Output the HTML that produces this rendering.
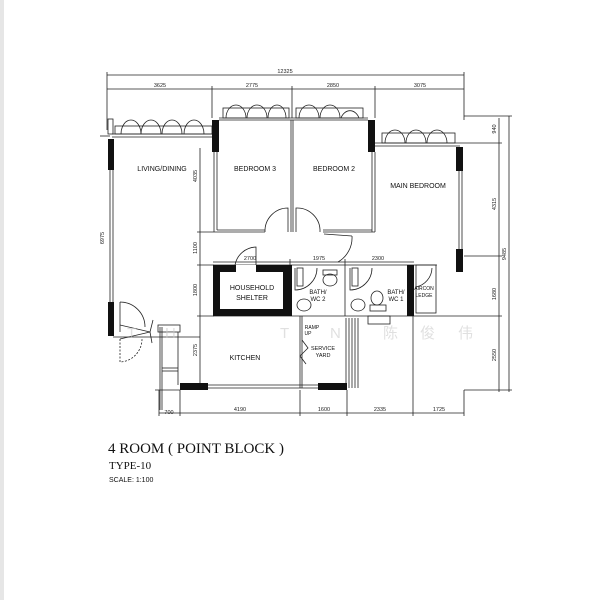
<!DOCTYPE html>
<html><head><meta charset="utf-8"><style>
html,body{margin:0;padding:0;background:#fff;}
svg{display:block}
.d{font-family:"Liberation Sans",sans-serif;font-size:5.5px;fill:#222}
.r{font-family:"Liberation Sans",sans-serif;font-size:7px;fill:#111}
</style></head><body>
<svg width="614" height="600" viewBox="0 0 614 600" xmlns="http://www.w3.org/2000/svg">
<rect x="0" y="0" width="4" height="600" fill="#e6e6e6"/>
<g stroke="#222" stroke-width="0.8" fill="none">
<!-- top dims -->
<line x1="107" y1="75" x2="464" y2="75"/>
<line x1="107" y1="89" x2="464" y2="89"/>
<line x1="107" y1="72" x2="107" y2="130"/><line x1="464" y1="72" x2="464" y2="120"/>
<line x1="212" y1="86" x2="212" y2="118"/><line x1="292" y1="86" x2="292" y2="118"/><line x1="375" y1="86" x2="375" y2="118"/>
<!-- right dims -->
<line x1="499" y1="118" x2="499" y2="392"/><line x1="509" y1="116" x2="509" y2="392"/>
<line x1="464" y1="116" x2="512" y2="116"/><line x1="460" y1="143" x2="502" y2="143"/>
<line x1="464" y1="256" x2="502" y2="256"/><line x1="416" y1="316" x2="502" y2="316"/>
<line x1="464" y1="390" x2="512" y2="390"/>
<!-- left dims -->
<line x1="200" y1="148" x2="200" y2="390"/>
<line x1="197" y1="232" x2="214" y2="232"/><line x1="197" y1="265" x2="214" y2="265"/><line x1="197" y1="316" x2="214" y2="316"/>
<line x1="100" y1="136" x2="110" y2="136"/>
<!-- bottom dims -->
<line x1="159" y1="413" x2="464" y2="413"/>
<line x1="159" y1="390" x2="159" y2="416"/><line x1="180" y1="390" x2="180" y2="416"/><line x1="300" y1="390" x2="300" y2="416"/><line x1="347" y1="390" x2="347" y2="416"/><line x1="413" y1="316" x2="413" y2="416"/><line x1="464" y1="390" x2="464" y2="416"/>
<!-- mid dims 2700 1975 2300 -->
<line x1="213" y1="262" x2="414" y2="262"/>
<line x1="290" y1="259" x2="290" y2="265"/><line x1="345" y1="259" x2="345" y2="265"/>
<!-- living walls -->
<line x1="110" y1="170" x2="110" y2="302"/><line x1="113" y1="170" x2="113" y2="302"/>
<line x1="112" y1="137" x2="212" y2="137"/><line x1="112" y1="134" x2="212" y2="134"/>
<rect x="108" y="119" width="5" height="15"/>
<rect x="115" y="126" width="97" height="8"/>
<path d="M121 134 A10 14 0 0 1 141 134 M141 134 A10 14 0 0 1 161 134 M162 134 A10 14 0 0 1 182 134 M184 134 A10 14 0 0 1 204 134"/>
<!-- bedroom 3 & 2 -->
<line x1="214" y1="152" x2="214" y2="232"/><line x1="217" y1="152" x2="217" y2="230"/>
<line x1="214" y1="232" x2="265" y2="232"/><line x1="217" y1="230" x2="265" y2="230"/>
<line x1="291" y1="120" x2="291" y2="232"/><line x1="293" y1="120" x2="293" y2="232"/>
<line x1="372" y1="152" x2="372" y2="232"/><line x1="375" y1="152" x2="375" y2="232"/>
<line x1="323" y1="232" x2="375" y2="232"/><line x1="323" y1="230" x2="372" y2="230"/>
<line x1="219" y1="120" x2="368" y2="120"/><line x1="219" y1="118" x2="368" y2="118"/>
<rect x="223" y="108" width="66" height="10"/><rect x="296" y="108" width="67" height="10"/>
<path d="M226 118 A10 13 0 0 1 246 118 M247 118 A10 13 0 0 1 267 118 M268 118 A9 13 0 0 1 286 118 M299 118 A10 13 0 0 1 319 118 M320 118 A10 13 0 0 1 340 118 M341 118 A10 13 0 0 1 359 118"/>
<path d="M265 232 A23 23 0 0 1 288 208 L288 232 M296 232 L296 208 A23 23 0 0 1 320 232"/>
<line x1="324" y1="234" x2="352" y2="236"/><path d="M352 236 A28 28 0 0 1 338 262"/>
<!-- main bedroom -->
<line x1="375" y1="143" x2="460" y2="143"/><line x1="375" y1="146" x2="460" y2="146"/>
<rect x="382" y="133" width="73" height="10"/>
<path d="M385 143 A10 13 0 0 1 405 143 M406 143 A10 13 0 0 1 426 143 M427 143 A10 13 0 0 1 447 143"/>
<line x1="459" y1="171" x2="459" y2="250"/><line x1="462" y1="171" x2="462" y2="250"/>
<!-- service core -->
<line x1="213" y1="265" x2="437" y2="265"/>
<line x1="213" y1="316" x2="416" y2="316"/>
<line x1="345" y1="265" x2="345" y2="316"/>
<path d="M235 265 A22 22 0 0 1 256 247 L256 265"/>
<path d="M295 268 L295 290 A22 22 0 0 0 317 268"/><rect x="297" y="268" width="6" height="18"/>
<path d="M350 268 L350 290 A22 22 0 0 0 372 268"/><rect x="352" y="268" width="6" height="18"/>
<ellipse cx="330" cy="280" rx="7" ry="6"/><rect x="323" y="270" width="14" height="5"/>
<ellipse cx="304" cy="305" rx="7" ry="6"/><ellipse cx="358" cy="305" rx="7" ry="6"/>
<ellipse cx="377" cy="298" rx="6" ry="7"/><rect x="370" y="305" width="16" height="6"/>
<rect x="368" y="316" width="22" height="8"/>
<rect x="416" y="265" width="20" height="48"/><path d="M416 287 A20 20 0 0 0 432 268"/>
<!-- kitchen -->
<line x1="300" y1="316" x2="300" y2="388"/><line x1="302" y1="316" x2="302" y2="388"/>
<path d="M302 340 L308 348 L300 356 L306 364"/>
<line x1="346" y1="318" x2="346" y2="388"/><line x1="349" y1="318" x2="349" y2="388"/><line x1="352" y1="318" x2="352" y2="388"/><line x1="355" y1="318" x2="355" y2="388"/><line x1="358" y1="318" x2="358" y2="388"/>
<line x1="208" y1="385" x2="318" y2="385"/><line x1="208" y1="388" x2="318" y2="388"/>
<line x1="155" y1="390" x2="180" y2="390"/>
<line x1="160" y1="327" x2="160" y2="410"/><line x1="162" y1="327" x2="162" y2="410"/>
<rect x="158" y="325" width="22" height="7"/>
<line x1="178" y1="332" x2="178" y2="385"/><line x1="162" y1="368" x2="178" y2="368"/><line x1="162" y1="371" x2="178" y2="371"/>
<line x1="113" y1="337" x2="200" y2="337"/>
<path d="M120 302 L120 332 M120 302 A25 25 0 0 1 145 327 M120 325 L150 332 L120 339 M150 332 L153 320 M150 332 L152 343"/>
<path d="M120 339 L120 362 A23 23 0 0 0 142 339" stroke-dasharray="2,1.5"/>
</g>
<g fill="#111">
<rect x="108" y="139" width="6" height="31"/>
<rect x="212" y="120" width="7" height="32"/>
<rect x="368" y="120" width="7" height="32"/>
<rect x="456" y="147" width="7" height="24"/>
<rect x="456" y="249" width="7" height="23"/>
<rect x="108" y="302" width="6" height="34"/>
<rect x="407" y="265" width="7" height="51"/>
<rect x="180" y="383" width="28" height="7"/>
<rect x="318" y="383" width="29" height="7"/>
<path fill-rule="evenodd" d="M213 265 H292 V316 H213 Z M220 272 V309 H283 V272 Z"/>
</g>
<rect x="236" y="265" width="20" height="7" fill="#fff"/>
<g class="d" text-anchor="middle">
<text x="285" y="73">12325</text>
<text x="160" y="87">3625</text><text x="252" y="87">2775</text><text x="333" y="87">2850</text><text x="420" y="87">3075</text>
<text x="169" y="414">700</text><text x="240" y="411">4190</text><text x="324" y="411">1600</text><text x="380" y="411">2335</text><text x="439" y="411">1725</text>
<text x="250" y="260">2700</text><text x="319" y="260">1975</text><text x="378" y="260">2300</text>
<text transform="translate(197,176) rotate(-90)">4035</text>
<text transform="translate(197,248) rotate(-90)">1100</text>
<text transform="translate(197,290) rotate(-90)">1800</text>
<text transform="translate(197,350) rotate(-90)">2375</text>
<text transform="translate(104,238) rotate(-90)">6975</text>
<text transform="translate(496,129) rotate(-90)">940</text>
<text transform="translate(496,204) rotate(-90)">4315</text>
<text transform="translate(496,294) rotate(-90)">1680</text>
<text transform="translate(496,355) rotate(-90)">2550</text>
<text transform="translate(506,254) rotate(-90)">9485</text>
</g>
<g class="r" text-anchor="middle">
<text x="162" y="171">LIVING/DINING</text>
<text x="255" y="171">BEDROOM 3</text>
<text x="334" y="171">BEDROOM 2</text>
<text x="418" y="188">MAIN BEDROOM</text>
<text x="252" y="290">HOUSEHOLD</text><text x="252" y="300">SHELTER</text>
<text x="245" y="360">KITCHEN</text>
<text x="323" y="350" font-size="5.5">SERVICE</text><text x="323" y="357" font-size="5.5">YARD</text>
<text x="318" y="294" font-size="6">BATH/</text><text x="318" y="301" font-size="6">WC 2</text>
<text x="396" y="294" font-size="6">BATH/</text><text x="396" y="301" font-size="6">WC 1</text>
<text x="424" y="290" font-size="5">AIRCON</text><text x="424" y="297" font-size="5">LEDGE</text>
<text x="312" y="329" font-size="5">RAMP</text><text x="308" y="335" font-size="5">UP</text>
</g>
<g font-family="Liberation Sans,Noto Sans CJK SC,sans-serif" font-size="15" fill="#ccc" opacity="0.6">
<text x="127" y="338">T</text><text x="165" y="338">H</text><text x="280" y="338">T</text><text x="330" y="338">N</text>
<text x="383" y="338">陈</text><text x="420" y="338">俊</text><text x="458" y="338">伟</text>
</g>
<text x="108" y="453" font-family="Liberation Serif,serif" font-size="15" fill="#111">4 ROOM ( POINT BLOCK )</text>
<text x="109" y="469" font-family="Liberation Serif,serif" font-size="11" fill="#111">TYPE-10</text>
<text x="109" y="482" font-family="Liberation Sans,sans-serif" font-size="7" fill="#111">SCALE:  1:100</text>
</svg>
</body></html>
